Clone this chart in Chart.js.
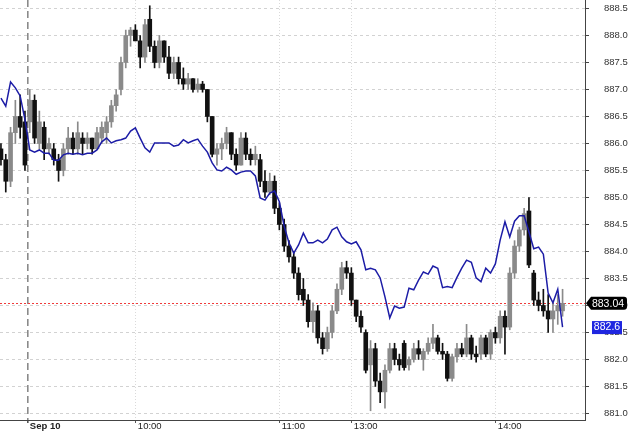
<!DOCTYPE html>
<html>
<head>
<meta charset="utf-8">
<script src="https://cdn.jsdelivr.net/npm/chart.js@4.4.1/dist/chart.umd.min.js"></script>
<style>
  html, body { margin: 0; padding: 0; background: #fff; }
  #wrap { width: 630px; height: 432px; }
</style>
</head>
<body>
<div id="wrap"><canvas id="chart" width="630" height="432"></canvas></div>
<script>
// 2-minute bars: tail of the previous session, then Sep 10 from 09:15
const opens = [
  885.9, 885.7, 885.3, 886.2, 886.5, 886.4, 886.4, 886.8, 886.0, 886.3,
  885.9, 885.9, 885.7, 885.5, 885.9, 886.1, 885.9, 886.1, 886.0, 886.1,
  885.9, 886.1, 886.2, 886.4, 886.7, 887.0, 887.5, 888.0, 888.1, 887.9,
  887.6, 888.3, 887.8, 887.5, 887.9, 887.6, 887.3, 887.5, 887.2, 887.1,
  887.2, 887.0, 887.1, 887.0, 886.5, 885.8, 885.9, 886.0, 886.2, 885.8,
  885.6, 886.1, 885.8, 885.7, 885.7, 885.3, 885.1, 885.3, 884.8, 884.5,
  884.1, 883.9, 883.6, 883.3, 883.1, 882.7, 882.9, 882.4, 882.2, 882.5,
  882.9, 883.3, 883.7, 883.6, 883.1, 882.8, 882.5, 881.9, 882.2, 881.6,
  881.4, 881.8, 882.2, 882.0, 882.3, 881.9, 882.0, 882.2, 882.0, 882.15,
  882.3, 882.4, 882.15, 882.1, 881.65, 882.05, 882.2, 882.1, 882.4, 882.1,
  882.1, 882.4, 882.1, 882.5, 882.4, 882.8, 882.6, 883.6, 884.1, 884.4,
  884.75, 883.6, 883.1, 883.0, 882.9, 882.75, 882.9, 882.9
];
const highs = [
  886.0, 885.8, 886.3, 886.8, 886.9, 886.6, 887.0, 886.9, 886.6, 886.4,
  886.1, 886.0, 885.8, 886.0, 886.3, 886.2, 886.4, 886.2, 886.2, 886.1,
  886.3, 886.4, 886.5, 886.8, 887.0, 887.6, 888.1, 888.15, 888.2, 888.0,
  888.3, 888.55, 887.9, 888.0, 887.9, 887.8, 887.6, 887.6, 887.4, 887.3,
  887.2, 887.2, 887.15, 887.0, 886.5, 886.0, 886.1, 886.3, 886.2, 885.9,
  886.2, 886.2, 885.9, 885.95, 885.8, 885.5, 885.45, 885.4, 884.9, 884.6,
  884.2, 884.0, 883.7, 883.5, 883.2, 883.05, 883.0, 882.5, 882.6, 883.0,
  883.4, 883.8, 883.82, 883.7, 883.1, 882.9, 882.55, 882.35, 882.3, 881.75,
  881.9, 882.3, 882.3, 882.1, 882.35, 882.05, 882.3, 882.35, 882.2, 882.4,
  882.65, 882.45, 882.3, 882.15, 882.1, 882.3, 882.3, 882.65, 882.45, 882.25,
  882.45, 882.45, 882.55, 882.6, 882.9, 882.9, 883.7, 884.2, 884.45, 884.8,
  885.0, 883.65, 883.25, 883.3, 883.2, 883.05, 883.2, 883.3
];
const lows = [
  885.6, 885.1, 885.2, 886.0, 886.1, 885.5, 886.2, 886.0, 885.9, 885.7,
  885.8, 885.6, 885.3, 885.4, 885.8, 885.8, 885.8, 885.8, 885.9, 885.8,
  885.9, 886.0, 886.0, 886.3, 886.6, 886.9, 887.4, 887.8, 887.9, 887.4,
  887.5, 887.7, 887.4, 887.4, 887.5, 887.2, 887.2, 887.1, 887.0, 887.0,
  886.95, 886.95, 886.95, 886.4, 885.75, 885.6, 885.7, 885.9, 885.7, 885.5,
  885.6, 885.7, 885.6, 885.6, 885.2, 885.0, 885.05, 884.7, 884.4, 884.0,
  883.8, 883.5, 883.1, 883.0, 882.6, 882.5, 882.3, 882.1, 882.15, 882.4,
  882.85, 883.2, 883.5, 883.0, 882.7, 882.5, 881.75, 881.05, 881.5, 881.2,
  881.1, 881.75, 881.9, 881.8, 881.8, 881.8, 881.95, 882.0, 881.8, 882.1,
  882.2, 882.1, 882.0, 881.6, 881.6, 881.95, 882.05, 882.05, 882.0, 881.95,
  882.0, 882.05, 882.0, 882.3, 882.3, 882.1, 882.55, 883.5, 884.0, 884.3,
  883.7, 883.0, 882.9, 882.8, 882.5, 882.5, 882.65, 882.8
];
const closes = [
  885.7, 885.3, 886.2, 886.5, 886.3, 885.6, 886.8, 886.1, 886.4, 885.9,
  886.0, 885.7, 885.5, 885.9, 886.1, 885.9, 886.2, 886.0, 886.1, 885.9,
  886.2, 886.3, 886.4, 886.7, 886.9, 887.5, 888.0, 888.1, 887.9, 887.6,
  888.2, 887.8, 887.5, 887.9, 887.6, 887.3, 887.5, 887.2, 887.1, 887.2,
  887.0, 887.1, 887.0, 886.5, 885.8, 885.9, 886.0, 886.2, 885.8, 885.6,
  886.1, 885.8, 885.7, 885.8, 885.3, 885.1, 885.3, 884.8, 884.5, 884.1,
  883.9, 883.6, 883.2, 883.1, 882.7, 882.9, 882.4, 882.2, 882.5, 882.9,
  883.3, 883.7, 883.6, 883.1, 882.8, 882.6, 881.8, 882.2, 881.6, 881.4,
  881.8, 882.2, 882.0, 881.9, 881.85, 882.0, 882.2, 882.1, 882.15, 882.3,
  882.4, 882.15, 882.1, 881.65, 882.05, 882.2, 882.1, 882.4, 882.1, 882.05,
  882.4, 882.1, 882.5, 882.4, 882.8, 882.6, 883.6, 884.1, 884.4, 884.7,
  883.75, 883.1, 883.0, 882.9, 882.75, 882.9, 883.0, 883.04
];
// blue comparison line, one value per bar
const blueLine = [
  886.84, 886.69, 887.14, 887.03, 886.88, 886.44, 885.88, 885.84, 885.88, 885.82,
  885.82, 885.69, 885.69, 885.79, 885.82, 885.8, 885.82, 885.79, 885.82, 885.82,
  885.88, 886.03, 886.1, 886.01, 886.05, 886.07, 886.1, 886.23, 886.29, 886.1,
  885.92, 885.84, 886.01, 886.01, 886.01, 886.01, 885.95, 885.97, 886.07, 886.01,
  886.05, 886.08, 885.95, 885.84, 885.64, 885.51, 885.49, 885.56, 885.51, 885.43,
  885.47, 885.49, 885.49, 885.4, 884.99, 884.95, 885.08, 885.12, 884.92, 884.47,
  884.16, 883.97, 884.12, 884.34, 884.16, 884.16, 884.21, 884.16, 884.23, 884.4,
  884.45, 884.27, 884.18, 884.14, 884.18, 884.03, 883.66, 883.69, 883.66, 883.51,
  883.16, 882.77, 882.99, 882.95, 882.97, 883.32, 883.29, 883.47, 883.62, 883.58,
  883.73, 883.69, 883.33, 883.35, 883.33, 883.52, 883.69, 883.84, 883.8, 883.51,
  883.44, 883.69, 883.6, 883.77, 884.21, 884.55, 884.27, 884.56, 884.66, 884.66,
  884.36, 884.05, 884.08, 883.95, 883.23, 883.05, 883.3, 882.6
];

// x axis in trading minutes after the Sep 10 open (09:15), lunch break removed
const tickLabels = ['Sep 10', '10:00', '11:00', '13:00', '14:00'];
const tickMinutes = [0, 45, 105, 135, 195];
const yTicks = [881.0, 881.5, 882.0, 882.5, 883.0, 883.5, 884.0, 884.5, 885.0, 885.5, 886.0, 886.5, 887.0, 887.5, 888.0, 888.5];
const lastPrice = 883.04;
const lastBlue = 882.6;

const barMinutes = opens.map((_, i) => -11 + 2 * i);

const UP = '#8a8a8a';
const DOWN = '#111111';
const FONT = 'Arial, "Liberation Sans", sans-serif';

const bodies = barMinutes.map((m, i) => ({ x: m, y: [opens[i], closes[i]] }));
const wicks = barMinutes.map((m, i) => ({ x: m, y: [lows[i], highs[i]] }));
const blue = barMinutes.map((m, i) => ({ x: m, y: blueLine[i] }));
const barColor = (ctx) => {
    const i = ctx.dataIndex;
    return closes[i] >= opens[i] ? UP : DOWN;
};

// red last-price line and the two value tags on the right
const priceTags = {
    id: 'priceTags',
    beforeDatasetsDraw(chart) {
        const { ctx, chartArea, scales } = chart;
        const y = Math.round(scales.y.getPixelForValue(lastPrice)) + 0.5;
        ctx.save();
        ctx.strokeStyle = '#f03a3a';
        ctx.lineWidth = 1;
        ctx.setLineDash([2, 2]);
        ctx.beginPath();
        ctx.moveTo(chartArea.left, y);
        ctx.lineTo(chartArea.right, y);
        ctx.stroke();
        ctx.restore();
    },
    afterDraw(chart) {
        const { ctx, chartArea, scales } = chart;
        const x0 = chartArea.right;
        ctx.save();
        ctx.font = '10.5px ' + FONT;
        ctx.textBaseline = 'middle';
        ctx.textAlign = 'center';

        // black tag with arrow
        let y = scales.y.getPixelForValue(lastPrice);
        const h = 13;
        ctx.fillStyle = '#000';
        ctx.beginPath();
        ctx.moveTo(x0 + 1, y);
        ctx.lineTo(x0 + 6, y - h / 2);
        ctx.lineTo(x0 + 39, y - h / 2);
        ctx.quadraticCurveTo(x0 + 42, y - h / 2, x0 + 42, y - h / 2 + 3);
        ctx.lineTo(x0 + 42, y + h / 2 - 3);
        ctx.quadraticCurveTo(x0 + 42, y + h / 2, x0 + 39, y + h / 2);
        ctx.lineTo(x0 + 6, y + h / 2);
        ctx.closePath();
        ctx.fill();
        ctx.fillStyle = '#fff';
        ctx.fillText(lastPrice.toFixed(2), x0 + 23, y + 0.5);

        // blue tag
        y = scales.y.getPixelForValue(lastBlue);
        ctx.fillStyle = '#1f26e0';
        ctx.fillRect(x0 + 7, y - 6, 30, 13);
        ctx.fillStyle = '#fff';
        ctx.fillText(String(lastBlue), x0 + 22, y + 0.5);
        ctx.restore();
    }
};

new Chart(document.getElementById('chart'), {
    type: 'bar',
    data: {
        datasets: [
            {
                type: 'line',
                data: blue,
                borderColor: '#1c1ca6',
                borderWidth: 1.5,
                pointRadius: 0,
                tension: 0,
                order: 0
            },
            {
                data: wicks,
                backgroundColor: barColor,
                barThickness: 1,
                grouped: false,
                order: 2
            },
            {
                data: bodies,
                backgroundColor: barColor,
                barThickness: 4,
                grouped: false,
                order: 1
            }
        ]
    },
    options: {
        responsive: false,
        animation: false,
        layout: { padding: 0 },
        plugins: { legend: { display: false }, tooltip: { enabled: false } },
        scales: {
            x: {
                type: 'linear',
                offset: false,
                min: -11.4,
                max: 232.35,
                afterBuildTicks: (scale) => { scale.ticks = tickMinutes.map(v => ({ value: v })); },
                afterFit: (scale) => {
                    scale.height = 12;
                    scale.paddingLeft = 0;
                    scale.paddingRight = 0;
                },
                ticks: {
                    autoSkip: false,
                    maxRotation: 0,
                    align: 'start',
                    labelOffset: 2.5,
                    padding: -2,
                    color: '#222',
                    font: (ctx) => ({ family: FONT, size: 9.5, weight: ctx.tick && ctx.tick.value === 0 ? 'bold' : 'normal' }),
                    callback: (v, i) => tickLabels[i]
                },
                grid: {
                    offset: false,
                    color: (ctx) => ctx.tick && ctx.tick.value === 0 ? '#8a8a8a' : '#dadada',
                    lineWidth: (ctx) => ctx.tick && ctx.tick.value === 0 ? 1.6 : 1,
                    tickColor: '#555',
                    tickLength: 3,
                    tickBorderDash: []
                },
                border: {
                    color: '#444',
                    dash: (ctx) => ctx.tick ? (ctx.tick.value === 0 ? [7, 4] : [1, 2]) : []
                }
            },
            y: {
                position: 'right',
                min: 880.879,
                max: 888.657,
                afterBuildTicks: (scale) => { scale.ticks = yTicks.map(v => ({ value: v })); },
                afterFit: (scale) => {
                    scale.width = 45;
                    scale.paddingTop = 0;
                    scale.paddingBottom = 0;
                },
                ticks: {
                    padding: 15,
                    color: '#333',
                    font: { family: FONT, size: 9.5 },
                    callback: (v) => Number(v).toFixed(1)
                },
                grid: {
                    color: '#d2d2d2',
                    tickColor: '#444',
                    tickLength: 4,
                    tickBorderDash: []
                },
                border: { color: '#444', dash: [3, 3] }
            }
        }
    },
    plugins: [priceTags]
});
</script>
</body>
</html>
